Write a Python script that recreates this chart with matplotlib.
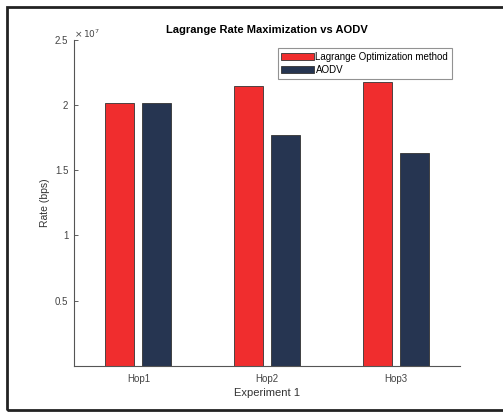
import numpy as np
import matplotlib.pyplot as plt
from matplotlib.patches import Rectangle

hops = ['Hop1', 'Hop2', 'Hop3']
lagrange = [2.02e7, 2.15e7, 2.18e7]
aodv = [2.02e7, 1.77e7, 1.63e7]

plt.rcParams['font.family'] = ['Liberation Sans', 'DejaVu Sans']

fig = plt.figure(figsize=(5.03, 4.12), dpi=100)
# cadre noir autour de l'image (coupé à droite)
fig.patches.append(Rectangle((0.014, 0.006), 1.0, 0.977, transform=fig.transFigure,
                             fill=False, edgecolor='#222222', linewidth=2))
ax = fig.add_axes([0.147, 0.112, 0.768, 0.791])

x = np.arange(1, len(hops) + 1)
w = 0.226
ax.bar(x - 0.143, lagrange, w, color='#f02d2e', edgecolor='#333333', linewidth=0.6,
       label='Lagrange Optimization method')
ax.bar(x + 0.143, aodv, w, color='#263551', edgecolor='#333333', linewidth=0.6,
       label='AODV')

ax.set_xlim(0.5, 3.5)
ax.set_ylim(0, 2.5e7)
ax.set_xticks(x)
ax.set_xticklabels(hops)
yt = [0.5e7, 1e7, 1.5e7, 2e7, 2.5e7]
ax.set_yticks(yt)
ax.set_yticklabels(['0.5', '1', '1.5', '2', '2.5'])
ax.tick_params(direction='in', length=3, width=0.6, labelsize=7, colors='#444444', pad=4)
ax.tick_params(axis='x', length=0, pad=6)
for s in ['top', 'right']:
    ax.spines[s].set_visible(False)
for s in ['left', 'bottom']:
    ax.spines[s].set_color('#555555')
    ax.spines[s].set_linewidth(0.8)

ax.text(0.0, 1.0, r'$\times\,10^{7}$', transform=ax.transAxes, fontsize=6.5,
        color='#444444', ha='left', va='bottom')
ax.set_title('Lagrange Rate Maximization vs AODV', fontsize=8, fontweight='bold', pad=5)
ax.set_xlabel('Experiment 1', fontsize=8, color='#333333', labelpad=3)
ax.set_ylabel('Rate (bps)', fontsize=7.5, color='#333333', labelpad=3.5)

leg = ax.legend(loc='upper right', bbox_to_anchor=(0.979, 0.975), fontsize=7,
                frameon=True, fancybox=False, handlelength=3.3, handleheight=0.75,
                handletextpad=0.2, borderpad=0.4, labelspacing=0.3, borderaxespad=0)
leg.get_frame().set_edgecolor('#777777')
leg.get_frame().set_linewidth(0.8)

fig.savefig('out.png', dpi=100)
